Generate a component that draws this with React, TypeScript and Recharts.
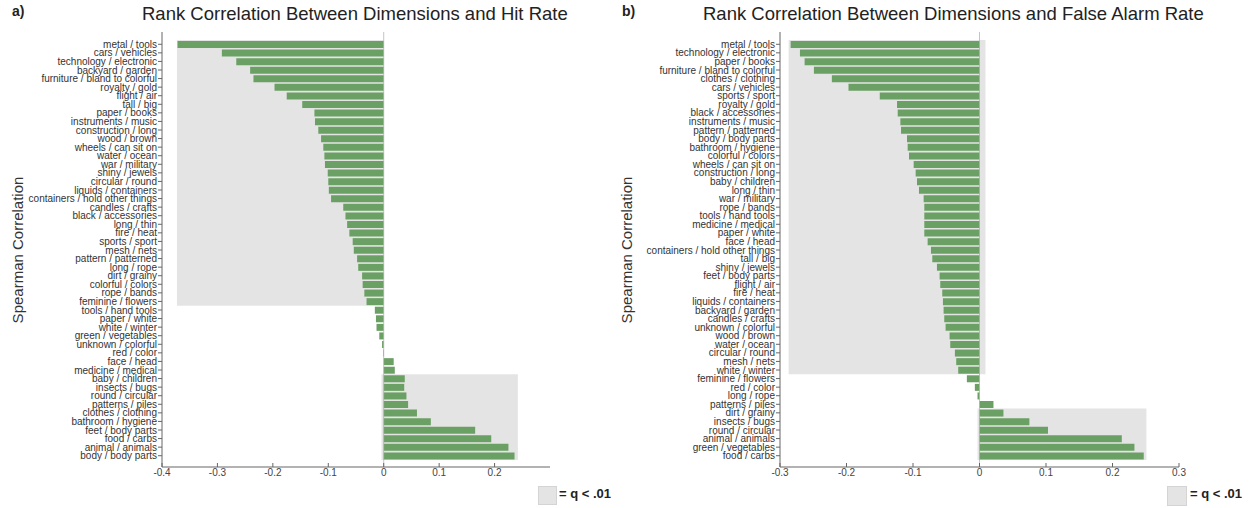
import React from "react";
import { BarChart, Bar, XAxis, YAxis, ReferenceArea, ReferenceLine } from "recharts";

// panel a) hit rate
const hitNames = [
  "metal / tools", "cars / vehicles", "technology / electronic", "backyard / garden",
  "furniture / bland to colorful", "royalty / gold", "flight / air", "tall / big",
  "paper / books", "instruments / music", "construction / long", "wood / brown",
  "wheels / can sit on", "water / ocean", "war / military", "shiny / jewels",
  "circular / round", "liquids / containers", "containers / hold other things", "candles / crafts",
  "black / accessories", "long / thin", "fire / heat", "sports / sport",
  "mesh / nets", "pattern / patterned", "long / rope", "dirt / grainy",
  "colorful / colors", "rope / bands", "feminine / flowers", "tools / hand tools",
  "paper / white", "white / winter", "green / vegetables", "unknown / colorful",
  "red / color", "face / head", "medicine / medical", "baby / children",
  "insects / bugs", "round / circular", "patterns / piles", "clothes / clothing",
  "bathroom / hygiene", "feet / body parts", "food / carbs", "animal / animals",
  "body / body parts",
];
const hitValues = [
  -0.372, -0.292, -0.266, -0.241, -0.235, -0.197, -0.175, -0.147,
  -0.125, -0.124, -0.118, -0.113, -0.109, -0.107, -0.106, -0.101,
  -0.1, -0.099, -0.095, -0.073, -0.069, -0.066, -0.062, -0.056,
  -0.054, -0.048, -0.046, -0.039, -0.038, -0.035, -0.031, -0.016,
  -0.014, -0.013, -0.008, -0.003, -0.001, 0.018, 0.02, 0.038,
  0.037, 0.041, 0.044, 0.06, 0.085, 0.165, 0.194, 0.225, 0.236,
];
const hitTicks = [-0.4, -0.3, -0.2, -0.1, 0, 0.1, 0.2];

// panel b) false alarm rate
const faNames = [
  "metal / tools", "technology / electronic", "paper / books", "furniture / bland to colorful",
  "clothes / clothing", "cars / vehicles", "sports / sport", "royalty / gold",
  "black / accessories", "instruments / music", "pattern / patterned", "body / body parts",
  "bathroom / hygiene", "colorful / colors", "wheels / can sit on", "construction / long",
  "baby / children", "long / thin", "war / military", "rope / bands",
  "tools / hand tools", "medicine / medical", "paper / white", "face / head",
  "containers / hold other things", "tall / big", "shiny / jewels", "feet / body parts",
  "flight / air", "fire / heat", "liquids / containers", "backyard / garden",
  "candles / crafts", "unknown / colorful", "wood / brown", "water / ocean",
  "circular / round", "mesh / nets", "white / winter", "feminine / flowers",
  "red / color", "long / rope", "patterns / piles", "dirt / grainy",
  "insects / bugs", "round / circular", "animal / animals", "green / vegetables",
  "food / carbs",
];
const faValues = [
  -0.284, -0.27, -0.263, -0.249, -0.222, -0.197, -0.15, -0.124,
  -0.123, -0.119, -0.118, -0.109, -0.108, -0.106, -0.099, -0.096,
  -0.094, -0.091, -0.084, -0.083, -0.083, -0.083, -0.083, -0.078,
  -0.073, -0.071, -0.064, -0.06, -0.059, -0.056, -0.055, -0.054,
  -0.053, -0.051, -0.045, -0.044, -0.037, -0.035, -0.032, -0.019,
  -0.007, -0.003, 0.021, 0.036, 0.075, 0.103, 0.214, 0.233, 0.247,
];
const faTicks = [-0.3, -0.2, -0.1, 0, 0.1, 0.2, 0.3];

const GREEN = "#6ba064";
const GRAY = "#e4e4e4";
const FONT = "'Liberation Sans', Arial, sans-serif";

const XTick = (props: any) => {
  const { x, y, payload } = props;
  return (
    <g>
      <line x1={x} x2={x} y1={y - 4} y2={y} stroke="#666" />
      <text x={x} y={y + 9} textAnchor="middle" fontSize={10} fill="#444">
        {String(payload.value)}
      </text>
    </g>
  );
};

// plain text so long names don't wrap
const YTick = (props: any) => {
  const { x, y, payload } = props;
  return (
    <text x={x} y={y} dy={3.5} textAnchor="end" fontSize={10} fill="#333">
      {payload.value}
    </text>
  );
};

function Panel({ names, values, ticks, domain, yWidth, width, right, areas }: any) {
  const data = names.map((n: string, i: number) => ({ name: n, value: values[i] }));
  return (
    <BarChart
      width={width}
      height={508}
      data={data}
      layout="vertical"
      margin={{ top: 32, right, bottom: 11, left: 0 }}
      barSize={7}
    >
      {areas.map((a: any, i: number) => (
        <ReferenceArea key={i} x1={a.x1} x2={a.x2} y1={a.y1} y2={a.y2} fill={GRAY} fillOpacity={1} stroke="none" />
      ))}
      <ReferenceLine x={0} stroke="#aaa" strokeWidth={0.7} />
      <XAxis
        type="number"
        domain={domain}
        ticks={ticks}
        height={30}
        stroke="#666"
        tickLine={false}
        tickSize={0}
        tickMargin={0}
        tick={<XTick />}
      />
      <YAxis
        type="category"
        dataKey="name"
        width={yWidth}
        interval={0}
        stroke="#666"
        tickSize={4}
        tickMargin={1}
        padding={{ top: 8, bottom: 7 }}
        tick={<YTick />}
      />
      <Bar dataKey="value" fill={GREEN} isAnimationActive={false} />
    </BarChart>
  );
}

const abs = (l: number, t: number, extra: any = {}) => ({ position: "absolute" as const, left: l, top: t, ...extra });

export default function App() {
  return (
    <div style={{ position: "absolute", left: 0, top: 0, width: 1251, height: 508, background: "#fff", fontFamily: FONT, color: "#222" }}>
      <div style={abs(0, 0)}>
        <Panel
          names={hitNames}
          values={hitValues}
          ticks={hitTicks}
          domain={[-0.4, 0.3]}
          yWidth={162}
          width={600}
          right={50}
          areas={[
            { x1: -0.373, x2: 0, y1: "metal / tools", y2: "feminine / flowers" },
            { x1: -0.004, x2: 0.242, y1: "baby / children", y2: "body / body parts" },
          ]}
        />
      </div>
      <div style={abs(620, 0)}>
        <Panel
          names={faNames}
          values={faValues}
          ticks={faTicks}
          domain={[-0.3, 0.3]}
          yWidth={160}
          width={631}
          right={72}
          areas={[
            { x1: -0.287, x2: 0.009, y1: "metal / tools", y2: "white / winter" },
            { x1: -0.003, x2: 0.251, y1: "dirt / grainy", y2: "food / carbs" },
          ]}
        />
      </div>

      <div style={abs(12, 3, { fontSize: 14, fontWeight: "bold" })}>a)</div>
      <div style={abs(142, 3, { fontSize: 18.5, whiteSpace: "nowrap" })}>Rank Correlation Between Dimensions and Hit Rate</div>
      <div style={abs(622, 3, { fontSize: 14, fontWeight: "bold" })}>b)</div>
      <div style={abs(703, 3, { fontSize: 18.5, whiteSpace: "nowrap" })}>Rank Correlation Between Dimensions and False Alarm Rate</div>

      <div style={abs(17, 250, { fontSize: 15, color: "#333", transform: "translate(-50%, -50%) rotate(-90deg)", whiteSpace: "nowrap" })}>
        Spearman Correlation
      </div>
      <div style={abs(626, 250, { fontSize: 15, color: "#333", transform: "translate(-50%, -50%) rotate(-90deg)", whiteSpace: "nowrap" })}>
        Spearman Correlation
      </div>

      <div style={abs(538, 486, { width: 17, height: 17, background: GRAY, border: "1px solid #d4d4d4" })} />
      <div style={abs(559, 486, { fontSize: 13, fontWeight: "bold", whiteSpace: "nowrap" })}>= q &lt; .01</div>
      <div style={abs(1167, 486, { width: 18, height: 18, background: GRAY, border: "1px solid #d4d4d4" })} />
      <div style={abs(1190, 486, { fontSize: 13, fontWeight: "bold", whiteSpace: "nowrap" })}>= q &lt; .01</div>
    </div>
  );
}
